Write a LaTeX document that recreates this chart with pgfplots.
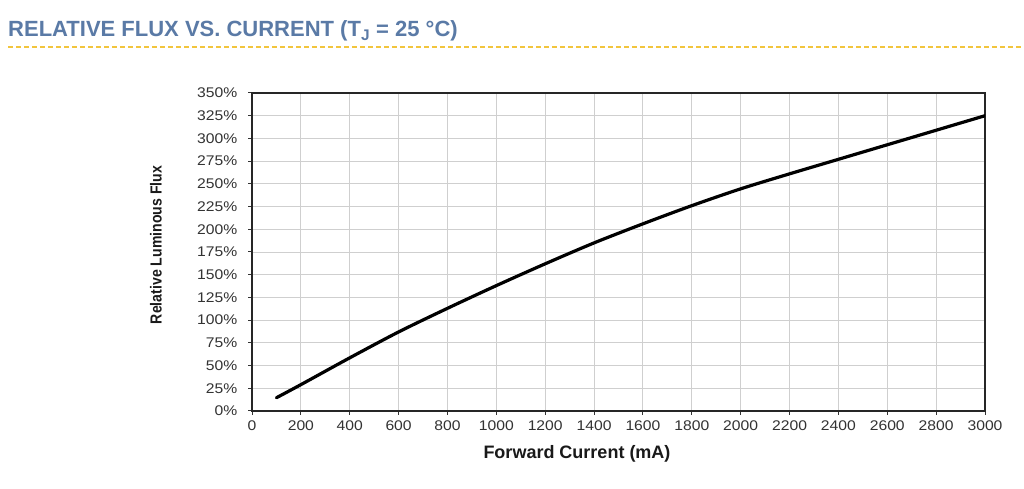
\documentclass[border=0pt]{standalone}
\usepackage{pgfplots}
\pgfplotsset{compat=1.18}
\usepackage{fontspec}
\setmainfont{Liberation Sans}
\definecolor{titleblue}{HTML}{5A7AA6}
\definecolor{dashyellow}{HTML}{F2C53D}
\definecolor{gridgray}{HTML}{CFCFCF}
\definecolor{ticktext}{HTML}{333333}
\begin{document}
\begin{tikzpicture}[x=1bp,y=1bp]
\path[use as bounding box, fill=white] (0,0) rectangle (1024,489);
% title
\node[anchor=base west, inner sep=0pt, text=titleblue, font=\fontsize{22bp}{26bp}\selectfont\bfseries] at (8,452)
  {RELATIVE FLUX VS. CURRENT (T\textsubscript{J} = 25 °C)};
\draw[dashyellow, line width=1.4bp, dash pattern=on 5bp off 3bp] (8,442) -- (1024,442);
\begin{axis}[
  at={(252bp,78bp)}, anchor=south west,
  scale only axis, width=733bp, height=318bp,
  xmin=0, xmax=3000, ymin=0, ymax=350,
  xtick={0,200,...,3000}, ytick={0,25,...,350},
  grid=major, grid style={gridgray, line width=0.9bp},
  tick pos=left, tick align=outside, major tick length=4bp,
  tick style={black!80, line width=1bp},
  axis line style={black!85, line width=1.6bp},
  /pgf/number format/assume math mode=true,
  /pgf/number format/1000 sep={},
  xticklabel style={font=\fontsize{14bp}{16bp}\selectfont, text=ticktext, xscale=1.12, yshift=-2bp},
  yticklabel style={font=\fontsize{14bp}{16bp}\selectfont, text=ticktext, xscale=1.12, xshift=-6bp},
  yticklabel={\pgfmathprintnumber{\tick}\%},
]
\addplot[black, line width=3.2bp, smooth, line cap=round] coordinates {
(100,14.6) (200,29) (400,58.5) (600,87) (800,113) (1000,138) (1200,162)
(1400,185) (1600,206) (1800,226) (2000,244.5) (2200,261) (2400,277)
(2600,293) (2800,309) (3000,325)
};
\end{axis}
\node[anchor=base, inner sep=0pt, font=\fontsize{18bp}{20bp}\selectfont\bfseries, text=black!90] at (577,30) {Forward Current (mA)};
\node[rotate=90, anchor=center, inner sep=0pt, font=\fontsize{16bp}{18bp}\selectfont\bfseries, text=black!90, xscale=0.88] at (156,244) {Relative Luminous Flux};
\end{tikzpicture}
\end{document}
